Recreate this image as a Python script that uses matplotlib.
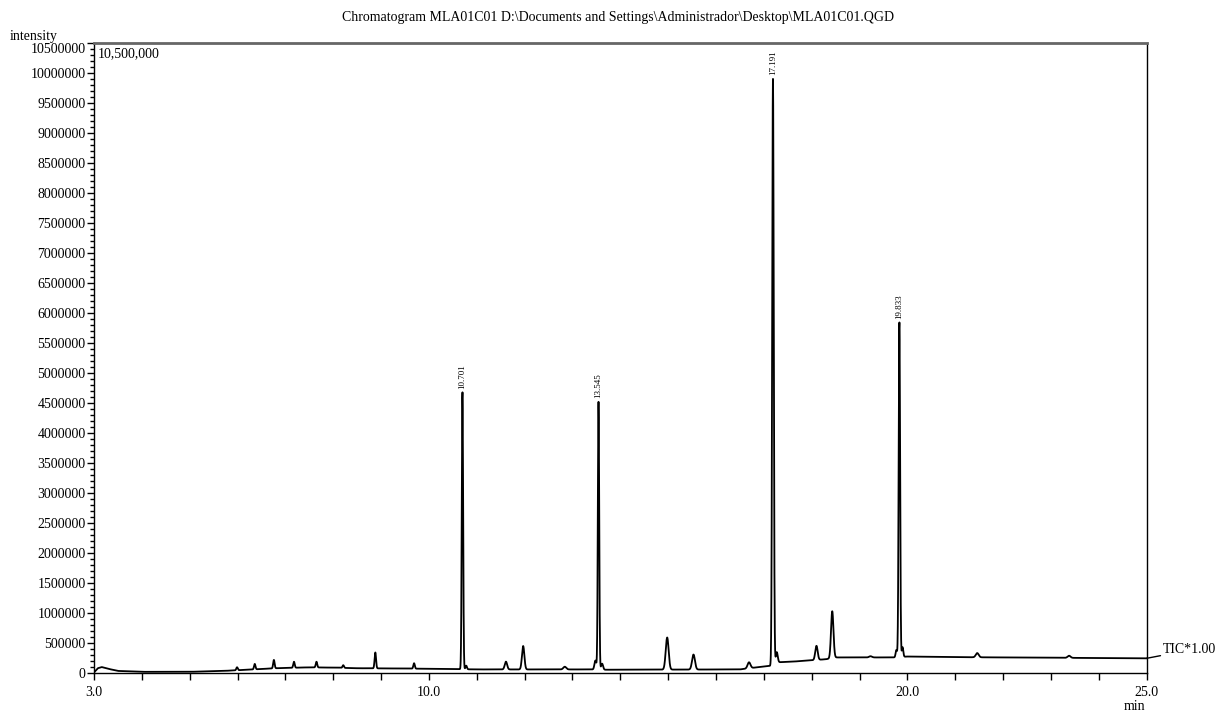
import numpy as np
import matplotlib.pyplot as plt
from matplotlib.ticker import MultipleLocator, FixedLocator

plt.rcParams['font.family'] = ['Liberation Serif', 'DejaVu Serif']

# baseline drift of the TIC trace (min, intensity)
base_t = [3.0, 3.08, 3.16, 3.3, 3.5, 4.0, 5.0, 5.7, 6.2, 6.8, 7.5, 8.0, 8.5, 9.5,
          10.6, 11.0, 13.4, 13.7, 16.5, 16.9, 17.15, 17.3, 17.6, 18.3, 18.5,
          19.7, 20.0, 21.0, 23.0, 25.0]
base_i = [10000, 80000, 100000, 70000, 35000, 20000, 20000, 35000, 55000, 80000,
          95000, 90000, 80000, 75000, 65000, 60000, 60000, 55000, 60000, 100000,
          120000, 180000, 190000, 230000, 260000, 260000, 275000, 265000, 255000,
          245000]

# labelled peaks: retention time and apex intensity
main_rt = [10.701, 13.545, 17.191, 19.833]
main_apex = [4690000, 4530000, 9920000, 5855000]
main_sigma = [0.014, 0.014, 0.016, 0.015]

# minor peaks: retention time, height above baseline, width
minor_rt = [5.99, 6.36, 6.76, 7.18, 7.65, 8.21, 8.88, 9.69, 10.78, 11.61, 11.97,
            12.84, 13.48, 13.62, 14.98, 15.53, 16.69, 17.27, 18.10, 18.43, 19.23,
            19.77, 19.90, 21.46, 23.38]
minor_h = [50000, 90000, 140000, 100000, 95000, 45000, 265000, 90000, 60000,
           130000, 390000, 45000, 150000, 100000, 535000, 250000, 100000, 180000,
           235000, 780000, 20000, 120000, 160000, 70000, 35000]
minor_sigma = [0.015, 0.015, 0.015, 0.015, 0.015, 0.015, 0.015, 0.015, 0.015,
               0.025, 0.025, 0.03, 0.02, 0.02, 0.03, 0.03, 0.03, 0.02, 0.025,
               0.025, 0.03, 0.015, 0.015, 0.03, 0.03]

t = np.arange(3.0, 25.0005, 0.002)
signal = np.interp(t, base_t, base_i).astype(float)
for rt, apex, s in zip(main_rt, main_apex, main_sigma):
    h = apex - np.interp(rt, base_t, base_i)
    signal += h * np.exp(-0.5 * ((t - rt) / s) ** 2)
for rt, h, s in zip(minor_rt, minor_h, minor_sigma):
    signal += h * np.exp(-0.5 * ((t - rt) / s) ** 2)

fig = plt.figure(figsize=(12.19, 7.11), dpi=100)
ax = fig.add_axes([0.0771, 0.0534, 0.8635, 0.8861])
ax.plot(t, signal, color='black', lw=1.3)

ax.set_xlim(3.0, 25.0)
ax.set_ylim(0, 10500000)

# x axis: tick every minute, labels only at a few positions
ax.xaxis.set_major_locator(FixedLocator([3.0, 10.0, 20.0, 25.0]))
ax.xaxis.set_minor_locator(MultipleLocator(1.0))
ax.set_xticklabels(['3.0', '10.0', '20.0', '25.0'])
ax.tick_params(axis='x', which='both', direction='out', length=5, width=1,
               labelsize=10, pad=4)

yt = list(range(0, 10500001, 500000))
ax.yaxis.set_major_locator(FixedLocator(yt))
ax.set_yticklabels([str(v) for v in yt])
ax.yaxis.set_minor_locator(MultipleLocator(100000))
ax.tick_params(axis='y', which='major', direction='out', length=5, width=1,
               labelsize=10, pad=1)
ax.tick_params(axis='y', which='minor', direction='out', length=3, width=1)
ax.get_yticklabels()[-1].set_va('top')

for sp in ax.spines.values():
    sp.set_linewidth(1.0)
ax.spines['top'].set_linewidth(2.0)
ax.spines['top'].set_color('#666666')

for rt, apex in zip(main_rt, main_apex):
    ax.annotate(f'{rt:.3f}', (rt, apex), xytext=(0, 2), textcoords='offset points',
                rotation=90, ha='center', va='bottom', fontsize=6.5)

ax.text(0.004, 0.993, '10,500,000', transform=ax.transAxes, ha='left', va='top',
        fontsize=10)
fig.text(0.008, 0.949, 'intensity', ha='left', va='center', fontsize=10)
fig.text(0.931, 0.007, 'min', ha='center', va='center', fontsize=10)
fig.text(0.507, 0.976,
         'Chromatogram MLA01C01 D:\\Documents and Settings\\Administrador\\Desktop\\MLA01C01.QGD',
         ha='center', va='center', fontsize=10)

ax.annotate('TIC*1.00', xy=(25.0, signal[-1]), xytext=(12, 6),
            textcoords='offset points', ha='left', va='center', fontsize=10,
            arrowprops=dict(arrowstyle='-', color='black', lw=1, shrinkA=0,
                            shrinkB=0),
            annotation_clip=False)

fig.savefig('out.png', dpi=100)
